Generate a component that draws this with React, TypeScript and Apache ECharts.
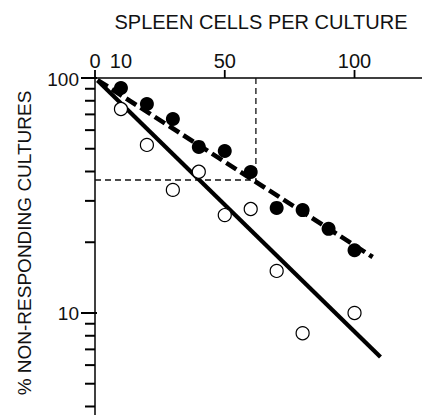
import React, { useEffect, useRef } from "react";
import * as echarts from "echarts";

// Filled circles (upper series)
const xFilled = [10, 20, 30, 40, 50, 60, 70, 80, 90, 100];
const yFilled = [90.7, 77.5, 66.9, 50.9, 48.9, 39.8, 28.0, 27.4, 22.8, 18.5];
// Open circles (lower series)
const xOpen = [10, 20, 30, 40, 50, 60, 70, 80, 100];
const yOpen = [73.8, 51.9, 33.4, 39.9, 26.1, 27.7, 15.1, 8.2, 10.0];
// Fitted lines (end points)
const solidFitX = [1, 110];
const solidFitY = [97.5, 6.5];
const dashedFitX = [1, 107];
const dashedFitY = [98, 17.3];
// Guide (37% level and its cell count)
const guideX = 62;
const guideY = 36.8;
// Axes
const xTickLabels = [0, 10, 50, 100];
const xTickMarks = [0, 50, 100];
const yMajorTicks = [100, 10];
const yMinorTicks = [90, 80, 70, 60, 50, 40, 30, 20, 9, 8, 7, 6, 5, 4];
const xMin = 0;
const xMax = 126;
const yMin = 3.68;
const yMax = 100;

const FONT = "'Liberation Sans', Arial, Helvetica, sans-serif";

export default function App() {
  const ref = useRef<HTMLDivElement>(null);
  useEffect(() => {
    if (!ref.current) return;
    const chart = echarts.init(ref.current, undefined, { renderer: "svg" });
    const pair = (xs: number[], ys: number[]) => xs.map((x, i) => [x, ys[i]]);
    const option: any = {
      animation: false,
      backgroundColor: "#fff",
      grid: { left: 95, top: 78, right: 0, bottom: 0, containLabel: false, outerBoundsMode: "none" },
      xAxis: {
        type: "value",
        position: "top",
        min: xMin,
        max: xMax,
        axisLine: { show: true, onZero: false, lineStyle: { color: "#000", width: 1.5 } },
        axisTick: { show: false },
        axisLabel: { show: false },
        splitLine: { show: false },
      },
      yAxis: {
        type: "log",
        logBase: 10,
        min: yMin,
        max: yMax,
        axisLine: { show: true, onZero: false, lineStyle: { color: "#000", width: 1.5 } },
        axisTick: { show: false },
        axisLabel: { show: false },
        splitLine: { show: false },
        minorSplitLine: { show: false },
      },
      series: [
        {
          type: "line",
          data: [[xMin, guideY], [guideX, guideY]],
          symbol: "none",
          lineStyle: { color: "#111", width: 1.3, type: [6, 4] },
          z: 1,
        },
        {
          type: "line",
          data: [[guideX, yMax], [guideX, guideY]],
          symbol: "none",
          lineStyle: { color: "#111", width: 1.3, type: [6, 4] },
          z: 1,
        },
        {
          type: "line",
          data: pair(solidFitX, solidFitY),
          symbol: "none",
          lineStyle: { color: "#000", width: 4.2 },
          z: 2,
        },
        {
          type: "line",
          data: pair(dashedFitX, dashedFitY),
          symbol: "none",
          lineStyle: { color: "#000", width: 4.6, type: [12, 5] },
          z: 2,
        },
        {
          type: "scatter",
          data: pair(xOpen, yOpen),
          symbol: "circle",
          symbolSize: 13,
          itemStyle: { color: "#fff", borderColor: "#000", borderWidth: 1.2, opacity: 1 },
          z: 3,
        },
        {
          type: "scatter",
          data: pair(xFilled, yFilled),
          symbol: "circle",
          symbolSize: 14,
          itemStyle: { color: "#000", opacity: 1 },
          z: 3,
        },
      ],
    };
    chart.setOption(option);

    // Axis decorations placed through the chart's own scales
    const toPx = (x: number, y: number) =>
      chart.convertToPixel({ gridIndex: 0 }, [x, y]) as number[];
    const graphics: any[] = [
      {
        type: "text",
        x: 261,
        y: 22,
        style: {
          text: "SPLEEN CELLS PER CULTURE",
          fontSize: 20,
          fontFamily: FONT,
          fill: "#111",
          align: "center",
          verticalAlign: "middle",
        },
      },
      {
        type: "text",
        x: 24,
        y: 243,
        rotation: Math.PI / 2,
        style: {
          text: "% NON-RESPONDING CULTURES",
          fontSize: 19,
          fontFamily: FONT,
          fill: "#111",
          align: "center",
          verticalAlign: "middle",
        },
      },
    ];
    xTickMarks.forEach((v) => {
      const p = toPx(v, yMax);
      graphics.push({
        type: "line",
        shape: { x1: p[0], y1: p[1], x2: p[0], y2: p[1] - 8 },
        style: { stroke: "#000", lineWidth: 1.8 },
      });
    });
    xTickLabels.forEach((v) => {
      const p = toPx(v, yMax);
      graphics.push({
        type: "text",
        x: p[0],
        y: p[1] - 17,
        style: {
          text: String(v),
          fontSize: 20,
          fontFamily: FONT,
          fill: "#111",
          align: "center",
          verticalAlign: "middle",
        },
      });
    });
    yMajorTicks.forEach((v) => {
      const p = toPx(xMin, v);
      graphics.push({
        type: "line",
        shape: { x1: p[0] + 2, y1: p[1], x2: p[0] - 14, y2: p[1] },
        style: { stroke: "#000", lineWidth: 2 },
      });
      graphics.push({
        type: "text",
        x: p[0] - 16,
        y: p[1] + 1,
        style: {
          text: String(v),
          fontSize: 19,
          fontFamily: FONT,
          fill: "#111",
          align: "right",
          verticalAlign: "middle",
        },
      });
    });
    yMinorTicks.forEach((v) => {
      const p = toPx(xMin, v);
      graphics.push({
        type: "line",
        shape: { x1: p[0], y1: p[1], x2: p[0] - 10, y2: p[1] },
        style: { stroke: "#000", lineWidth: 2 },
      });
    });
    chart.setOption({ graphic: graphics });
    return () => chart.dispose();
  }, []);
  return (
    <div
      ref={ref}
      style={{ position: "fixed", left: 0, top: 0, width: 422, height: 415, background: "#fff" }}
    />
  );
}
